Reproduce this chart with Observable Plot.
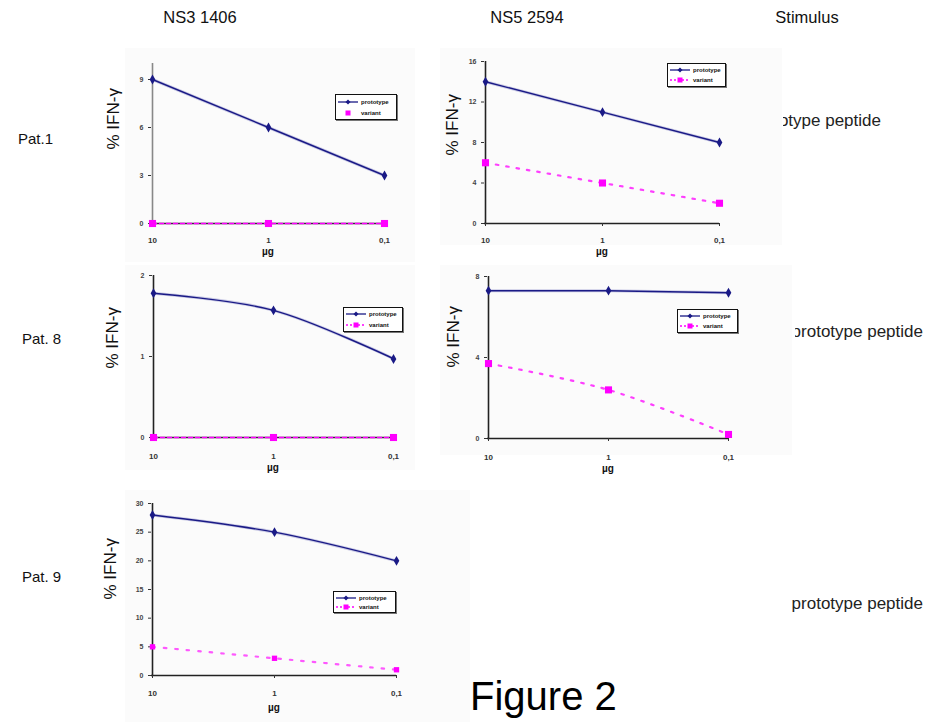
<!DOCTYPE html>
<html>
<head>
<meta charset="utf-8">
<script src="https://cdn.jsdelivr.net/npm/d3@7"></script>
<script src="https://cdn.jsdelivr.net/npm/@observablehq/plot@0.6"></script>
<style>
  html, body { margin: 0; padding: 0; background: #fff; }
  #page { position: relative; width: 929px; height: 722px; overflow: hidden; background: #fff; font-family: "Liberation Sans", Arial, sans-serif; color: #111; }
  .abs { position: absolute; }
  .bg { position: absolute; background: #fbfbfb; }
  .title { position: absolute; font-size: 16.5px; white-space: nowrap; transform: translate(-50%, -50%); }
  .row { position: absolute; font-size: 15px; white-space: nowrap; transform: translateY(-50%); }
  .clip { position: absolute; overflow: hidden; height: 22px; transform: translateY(-50%); }
  .clip span { position: absolute; right: 0; top: 0; line-height: 22px; white-space: nowrap; font-size: 17px; color: #222; }
  .legend { position: absolute; background: #fff; border: 1px solid #111; box-shadow: 1px 1px 0 #777; box-sizing: border-box; font-size: 6px; font-weight: bold; }
  .legend .item { display: flex; align-items: center; height: 50%; }
  .legend svg { display: block; margin: 0 2px 0 1px; }
  .panel svg { background: transparent !important; overflow: visible; }
</style>
</head>
<body>
<div id="page"></div>
<script>
// ---- data ----
const doses = ["10", "1", "0,1"];
const columnTitles = ["NS3 1406", "NS5 2594", "Stimulus"];
const rowLabels = ["Pat.1", "Pat. 8", "Pat. 9"];
const stimulusLabel = "prototype peptide";
const seriesNames = ["prototype", "variant"];
const xLabel = "µg";
const yLabel = "% IFN-γ";

const ns3Pat1Prototype = [9, 6, 3];
const ns3Pat1Variant = [0, 0, 0];
const ns5Pat1Prototype = [14, 11, 8];
const ns5Pat1Variant = [6, 4, 2];
const ns3Pat8Prototype = [1.78, 1.57, 0.97];
const ns3Pat8Variant = [0, 0, 0];
const ns5Pat8Prototype = [7.3, 7.3, 7.2];
const ns5Pat8Variant = [3.7, 2.4, 0.2];
const ns3Pat9Prototype = [28, 25, 20];
const ns3Pat9Variant = [5, 3, 1];

const ticksNs3Pat1 = [0, 3, 6, 9];
const ticksNs5Pat1 = [0, 4, 8, 12, 16];
const ticksNs3Pat8 = [0, 1, 2];
const ticksNs5Pat8 = [0, 4, 8];
const ticksNs3Pat9 = [0, 5, 10, 15, 20, 25, 30];

// ---- layout ----
const page = document.getElementById("page");
const NAVY = "#1a1a86";
const MAGENTA = "#ff00ff";

function addDiv(cls, css, text) {
  const d = document.createElement("div");
  d.className = cls;
  Object.assign(d.style, css);
  if (text != null) d.textContent = text;
  page.appendChild(d);
  return d;
}

// panel backgrounds
[[125, 48, 290, 214], [440, 48, 342, 197], [125, 265, 290, 205], [440, 265, 352, 190], [125, 490, 345, 232]]
  .forEach(([l, t, w, h]) => addDiv("bg", {left: l + "px", top: t + "px", width: w + "px", height: h + "px"}));

// titles
addDiv("title", {left: "200px", top: "17px"}, columnTitles[0]);
addDiv("title", {left: "527px", top: "17px"}, columnTitles[1]);
addDiv("title", {left: "807px", top: "17px"}, columnTitles[2]);
addDiv("row", {left: "18px", top: "138px"}, rowLabels[0]);
addDiv("row", {left: "22px", top: "338px"}, rowLabels[1]);
addDiv("row", {left: "22px", top: "576px"}, rowLabels[2]);

// stimulus labels (partly hidden behind the panels, as in the original)
function clipped(left, right, top) {
  const d = addDiv("clip", {left: left + "px", top: top + "px", width: (right - left) + "px"});
  const s = document.createElement("span");
  s.textContent = stimulusLabel;
  d.appendChild(s);
}
clipped(783, 881, 121);
clipped(795, 923, 332);
clipped(770, 923, 604);

addDiv("abs", {left: "470px", top: "672px", fontSize: "40px", whiteSpace: "nowrap", lineHeight: "48px", color: "#000"}, "Figure 2");

function legend(l, t, w, h, variantLine) {
  const box = addDiv("legend", {left: l + "px", top: t + "px", width: w + "px", height: h + "px", padding: "1px 0"});
  const mk = (name, isProto) => {
    const it = document.createElement("div");
    it.className = "item";
    const sw = 22;
    let svg = `<svg width="${sw}" height="8" viewBox="0 0 ${sw} 8">`;
    if (isProto) {
      svg += `<line x1="1" y1="4" x2="${sw - 1}" y2="4" stroke="${NAVY}" stroke-width="1.3"/>`;
      svg += `<rect x="${sw / 2 - 1.8}" y="2.2" width="3.6" height="3.6" fill="${NAVY}" transform="rotate(45 ${sw / 2} 4)"/>`;
    } else {
      if (variantLine) svg += `<line x1="1" y1="4" x2="${sw - 1}" y2="4" stroke="${MAGENTA}" stroke-width="1.3" stroke-dasharray="2,2"/>`;
      svg += `<rect x="${sw / 2 - 2.5}" y="1.5" width="5" height="5" fill="${MAGENTA}"/>`;
    }
    svg += `</svg>`;
    it.innerHTML = svg + `<span>${name}</span>`;
    box.appendChild(it);
  };
  mk(seriesNames[0], true);
  mk(seriesNames[1], false);
}

function panel(o) {
  const rows = doses.map((d, i) => ({dose: d, prototype: o.proto[i], variant: o.variant[i]}));
  const chart = Plot.plot({
    width: o.width,
    height: o.height,
    marginLeft: o.ml, marginRight: o.mr, marginTop: o.mt, marginBottom: o.mb,
    style: {background: "transparent", fontFamily: "Liberation Sans, Arial, sans-serif", overflow: "visible"},
    x: {type: "point", domain: doses, padding: 0},
    y: {domain: o.yDomain},
    marks: [
      Plot.ruleX([doses[0]], {stroke: o.axisColor || "#222", strokeWidth: 1.6}),
      Plot.ruleY([0], {stroke: "#222", strokeWidth: 1.3}),
      Plot.axisY({ticks: o.yTicks, tickFormat: (d) => String(d), tickSize: 3, tickPadding: 5, fontSize: 7, fontWeight: "bold", fill: "#444", label: null, stroke: "#333"}),
      Plot.axisX({tickSize: 3, tickPadding: o.xPad || 11, fontSize: 8, fontWeight: "bold", fill: "#333", label: null, stroke: "#333"}),
      Plot.line(rows, {x: "dose", y: "variant", stroke: MAGENTA, strokeWidth: o.varWidth || 1.6, strokeOpacity: o.varOpacity || 1, strokeDasharray: o.varDash, curve: o.varCurve || "linear"}),
      Plot.line(rows, {x: "dose", y: "prototype", stroke: "#9a9ad0", strokeWidth: 3, strokeOpacity: 0.5, curve: o.protoCurve || "linear"}),
      Plot.line(rows, {x: "dose", y: "prototype", stroke: NAVY, strokeWidth: 1.4, curve: o.protoCurve || "linear"}),
      Plot.dot(rows, {x: "dose", y: "variant", symbol: "square", r: o.varR || 4, fill: MAGENTA}),
      Plot.dot(rows, {x: "dose", y: "prototype", symbol: "diamond", r: 3, fill: NAVY}),
      Plot.text([xLabel], {frameAnchor: "bottom", dy: o.xLabelDy, fontSize: 10, fontWeight: "bold", fill: "#111"}),
      Plot.text([yLabel], {frameAnchor: "left", dx: -o.yLabelDx, dy: o.yLabelDy, rotate: -90, fontSize: 17, fill: "#111"})
    ]
  });
  const wrap = addDiv("abs panel", {left: o.left + "px", top: o.top + "px"});
  wrap.appendChild(chart);
  legend(...o.legend);
}

panel({proto: ns3Pat1Prototype, variant: ns3Pat1Variant, yDomain: [0, 10], yTicks: ticksNs3Pat1,
  left: 95, top: 50, width: 315, height: 215, ml: 56, mr: 26, mt: 13, mb: 42,
  varDash: "4,3", axisColor: "#888", xLabelDy: 31, yLabelDx: 38, yLabelDy: 6,
  legend: [335, 94, 62, 26, false]});

panel({proto: ns5Pat1Prototype, variant: ns5Pat1Variant, yDomain: [0, 16], yTicks: ticksNs5Pat1,
  left: 425, top: 48, width: 335, height: 217, ml: 59, mr: 41, mt: 13, mb: 42,
  varDash: "2.5,8", varWidth: 2.2, varOpacity: 0.75, xLabelDy: 31, yLabelDx: 32, yLabelDy: 13,
  legend: [667, 63, 59, 24, true]});

panel({proto: ns3Pat8Prototype, variant: ns3Pat8Variant, yDomain: [0, 2], yTicks: ticksNs3Pat8,
  left: 95, top: 262, width: 315, height: 215, ml: 57, mr: 17, mt: 13, mb: 40,
  varDash: "4,3", protoCurve: "catmull-rom", xPad: 13, xLabelDy: 33, yLabelDx: 40, yLabelDy: 12,
  legend: [343, 307, 60, 25, true]});

panel({proto: ns5Pat8Prototype, variant: ns5Pat8Variant, yDomain: [0, 8], yTicks: ticksNs5Pat8,
  left: 425, top: 263, width: 335, height: 215, ml: 62, mr: 32, mt: 13, mb: 40,
  varDash: "2.5,8", varWidth: 2.2, varOpacity: 0.75, varCurve: "catmull-rom", xPad: 13, xLabelDy: 33, yLabelDx: 34, yLabelDy: 10,
  legend: [677, 309, 61, 24, true]});

panel({proto: ns3Pat9Prototype, variant: ns3Pat9Variant, yDomain: [0, 30], yTicks: ticksNs3Pat9,
  left: 95, top: 490, width: 320, height: 232, ml: 56, mr: 19, mt: 13, mb: 47,
  varDash: "2.5,9", varWidth: 2.2, varOpacity: 0.65, varR: 3, protoCurve: "catmull-rom", varCurve: "catmull-rom", xPad: 12, xLabelDy: 35, yLabelDx: 41, yLabelDy: 10,
  legend: [333, 591, 63, 22, true]});
</script>
</body>
</html>
